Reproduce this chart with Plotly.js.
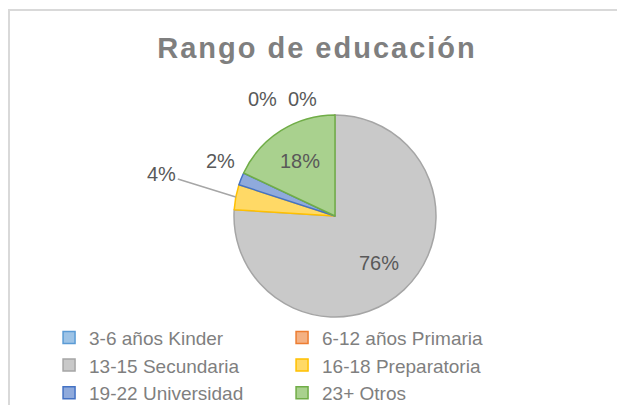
<!DOCTYPE html>
<html>
<head>
<meta charset="utf-8">
<script src="https://cdn.plot.ly/plotly-3.0.1.min.js"></script>
<style>
  html, body { margin: 0; padding: 0; overflow: hidden; background: #ffffff; width: 617px; height: 405px; }
  #frame { position: absolute; left: 8px; top: 9px; width: 800px; height: 600px; border: 2px solid #D9D9D9; box-sizing: border-box; }
  #chart { position: absolute; left: 0; top: 0; width: 617px; height: 440px; }
  .gtitle { letter-spacing: 2px; }
</style>
</head>
<body>
<div id="frame"></div>
<div id="chart"></div>
<script>
// ---- data ----
const categories = ["3-6 años Kinder", "6-12 años Primaria", "13-15 Secundaria", "16-18 Preparatoria", "19-22 Universidad", "23+ Otros"];
const values = [0, 0, 38, 2, 1, 9];

// ---- styles ----
const fillColors = ["#9DC3E6", "#F4B183", "#C9C9C9", "#FFD966", "#8FAADC", "#A9D18E"];
const lineColors = ["#5B9BD5", "#ED7D31", "#A5A5A5", "#FFC000", "#4472C4", "#70AD47"];
// label placement style: radial factor, pixel nudges, optional leader line offsets
const labelStyle = [
  { r: 1.0, xs: -73, ys: 16 },
  { r: 1.0, xs: -33, ys: 16 },
  { r: 0.64, xs: 0, ys: 0 },
  { r: 1.0, leader: true, ax: -74, ay: -23 },
  { r: 1.26, xs: 4, ys: 8 },
  { r: 0.64, xs: 0, ys: 0 }
];

const W = 617, H = 440;
const CX = 335, CY = 216, R = 101;
const FONT = "Liberation Sans, Arial, sans-serif";

const total = values.reduce((a, b) => a + b, 0);
const annotations = [];
let cum = 0;
values.forEach((v, i) => {
  const frac = v / total;
  const mid = (cum + frac / 2) * 2 * Math.PI; // clockwise from 12 o'clock
  cum += frac;
  const s = labelStyle[i];
  const px = CX + s.r * R * Math.sin(mid);
  const py = CY - s.r * R * Math.cos(mid);
  const ann = {
    xref: "paper", yref: "paper",
    x: px / W, y: (H - py) / H,
    text: Math.round(frac * 100) + "%",
    font: { family: FONT, size: 20, color: "#595959" },
    xanchor: "center", yanchor: "middle"
  };
  if (s.leader) {
    ann.showarrow = true;
    ann.ax = s.ax; ann.ay = s.ay;
    ann.arrowhead = 0; ann.arrowwidth = 1.5; ann.arrowcolor = "#A6A6A6";
    ann.standoff = 0; ann.startstandoff = 0;
  } else {
    ann.showarrow = false;
    ann.xshift = s.xs; ann.yshift = s.ys;
  }
  annotations.push(ann);
});

const trace = {
  type: "pie",
  labels: categories,
  values: values,
  sort: false,
  direction: "clockwise",
  rotation: 0,
  marker: { colors: fillColors, line: { color: lineColors, width: 1.5 } },
  textinfo: "none",
  domain: { x: [(CX - R) / W, (CX + R) / W], y: [(H - CY - R) / H, (H - CY + R) / H] },
  hoverinfo: "label+percent",
  showlegend: true
};

const layout = {
  width: W,
  height: H,
  margin: { l: 0, r: 0, t: 0, b: 0 },
  paper_bgcolor: "rgba(0,0,0,0)",
  plot_bgcolor: "rgba(0,0,0,0)",
  title: {
    text: "<b>Rango de educación</b>",
    x: 317 / W,
    xanchor: "center",
    y: (H - 48) / H,
    yanchor: "middle",
    font: { family: FONT, size: 29, color: "#7F7F7F" }
  },
  annotations: annotations,
  legend: {
    orientation: "h",
    x: 0.0795,
    xanchor: "left",
    y: 0.276,
    yanchor: "top",
    entrywidth: 188,
    entrywidthmode: "pixels",
    traceorder: "normal",
    font: { family: FONT, size: 19, color: "#7F7F7F" },
    bgcolor: "rgba(0,0,0,0)"
  }
};

Plotly.newPlot("chart", [trace], layout, { displayModeBar: false, staticPlot: true });
</script>
</body>
</html>
